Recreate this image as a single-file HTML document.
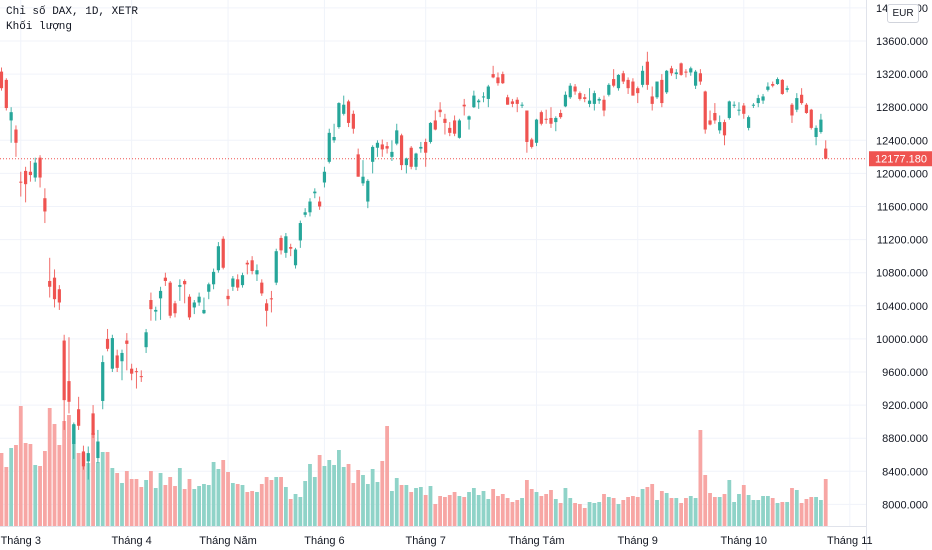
<!DOCTYPE html>
<html><head><meta charset="utf-8"><style>
html,body{margin:0;padding:0;background:#fff;}
#wrap{position:relative;width:932px;height:550px;overflow:hidden;font-family:"Liberation Sans","Noto Sans CJK SC",sans-serif;}
svg{position:absolute;left:0;top:0;}
.legend{position:absolute;left:6px;font-family:"Liberation Mono","DejaVu Sans Mono",monospace;font-size:11px;color:#131722;}
#eur{position:absolute;left:887px;top:4px;width:30px;height:17px;border:1px solid #d1d4dc;border-radius:3px;background:#fff;font-size:10px;line-height:17px;text-align:center;color:#131722;}
</style></head><body>
<div id="wrap">
<svg id="chart" width="932" height="550"></svg>
<div class="legend" style="top:6px">Chỉ số DAX, 1D, XETR</div>
<div class="legend" style="top:21px">Khối lượng</div>
<div id="eur">EUR</div>
</div>
<script>
const opens=[13230,13130,12640,12530,11900,12030,12020,11950,12190,11700,10700,10740,10600,9980,9490,8730,9150,8640,8520,9100,8560,9250,10000,9640,9800,9730,9980,9640,9610,9550,9900,10470,10330,10490,10740,10680,10430,10630,10700,10510,10380,10440,10310,10570,10660,10830,11210,10520,10630,10720,10650,10920,10950,10780,10680,10430,10490,10680,11220,11040,11110,10890,11190,11500,11530,11760,11660,11890,12140,12400,12560,12720,12870,12720,12230,11880,11660,12140,12310,12350,12330,12200,12360,12460,12100,12310,12080,12300,12380,12380,12640,12770,12660,12550,12640,12430,12830,12650,12800,12860,12920,12900,13200,13160,13200,12920,12870,12890,12820,12760,12410,12370,12740,12660,12670,12620,12730,12810,12920,13050,12970,12920,12840,12840,12880,12890,12950,13140,13030,13210,13130,13110,13030,13070,13350,12930,12920,13130,12980,13270,13200,13330,13230,13220,13060,13210,12990,12640,12730,12520,12620,12670,12820,12760,12820,12550,12820,12850,12880,13010,13080,13080,13130,13010,12830,12770,12950,12830,12770,12440,12500,12300];
const highs=[13280,13150,12800,12580,12020,12080,12150,12190,12220,11820,10980,10840,10650,10050,10020,8990,9300,8710,8700,9200,8900,9800,10120,10050,9870,9870,10070,9700,9650,9620,10120,10560,10390,10630,10800,10700,10460,10720,10720,10540,10470,10560,10500,10680,10850,11170,11240,10600,10760,10780,10800,10950,11000,10900,10720,10480,10580,11090,11250,11280,11150,11100,11430,11580,11700,11820,11720,12080,12540,12600,12860,12940,12890,12760,12300,12160,11930,12340,12400,12410,12380,12400,12600,12480,12190,12330,12250,12380,12420,12620,12760,12860,12720,12620,12700,12660,12900,12700,13000,12900,12980,13070,13300,13220,13230,12950,12900,12920,12860,12760,12430,12660,12760,12770,12800,12690,12770,12990,13090,13080,12990,12960,13030,13000,12920,12940,13090,13260,13200,13240,13160,13150,13050,13300,13470,13050,13110,13200,13250,13300,13260,13340,13260,13290,13250,13260,13000,12760,12850,12700,12650,12880,12870,12860,12850,12700,12850,12950,12960,13100,13110,13160,13140,13060,12850,12970,13030,12850,12780,12580,12720,12400];
const lows=[13000,12760,12370,12200,11720,11650,11900,11900,11830,11400,10500,10380,10350,8900,9100,8550,8900,8420,8300,8800,8500,9150,9850,9600,9600,9500,9620,9500,9400,9480,9830,10220,10220,10230,10640,10250,10260,10460,10430,10230,10300,10400,10300,10480,10600,10800,10840,10400,10580,10580,10620,10780,10780,10700,10520,10150,10320,10650,11020,10980,11000,10850,11100,11470,11480,11700,11560,11830,12120,12370,12540,12700,12560,12480,11960,11850,11580,12000,12200,12200,12240,12150,12340,12040,12000,12050,12040,12250,12080,12360,12520,12680,12470,12450,12450,12420,12700,12530,12790,12780,12860,12800,13150,13060,13080,12830,12800,12740,12790,12250,12300,12330,12580,12600,12550,12510,12660,12800,12900,12950,12880,12860,12800,12760,12840,12690,12930,13040,13000,13080,12960,12940,12850,13040,13010,12760,12900,12800,12960,13180,13140,13180,13160,13180,13020,13070,12480,12580,12600,12480,12340,12650,12790,12700,12660,12520,12790,12800,12840,12990,13040,13070,12950,12980,12610,12740,12830,12720,12530,12340,12480,12177];
const closes=[13030,12790,12740,12370,11890,11870,11980,12130,11950,11540,10630,10480,10440,9260,9240,8970,8950,8460,8620,8840,8760,9720,9880,10010,9650,9830,9940,9580,9600,9540,10080,10360,10350,10580,10700,10280,10310,10650,10660,10260,10440,10510,10350,10660,10810,11120,10860,10480,10730,10620,10770,10900,10820,10830,10550,10340,10480,11060,11070,11240,11090,11080,11400,11530,11660,11780,11600,12020,12490,12440,12850,12830,12610,12540,11960,11960,11910,12320,12370,12290,12300,12260,12520,12100,12180,12080,12240,12320,12250,12610,12530,12740,12610,12490,12480,12640,12810,12690,12940,12880,12930,13050,13160,13090,13090,12830,12840,12840,12830,12380,12320,12650,12600,12650,12600,12670,12680,12950,13060,12990,12900,12900,12880,12970,12900,12760,13070,13060,13190,13110,13030,12940,12970,13240,13070,12840,13110,12850,13240,13210,13220,13190,13220,13270,13230,13110,12530,12590,12640,12620,12460,12870,12830,12770,12720,12680,12830,12910,12930,13050,13060,13140,12960,13030,12700,12910,12850,12730,12550,12550,12650,12177.18];
const volumes=[73,59,78,81,120,83,82,61,60,75,118,102,81,105,111,101,73,73,63,93,64,74,74,58,53,43,55,47,47,39,46,55,38,53,41,49,40,58,37,47,37,40,42,41,64,57,66,54,43,42,41,34,35,34,42,49,46,49,49,39,27,32,29,45,62,49,71,60,66,61,76,59,62,43,56,51,42,57,44,65,100,35,48,41,41,34,38,39,31,40,22,30,29,31,34,30,29,34,38,31,35,27,37,30,32,28,24,26,28,46,37,34,30,32,36,27,23,38,28,23,22,18,24,23,24,32,29,28,22,26,29,30,29,37,39,42,26,35,33,28,28,23,28,30,28,96,51,33,29,29,32,46,24,32,41,31,26,26,30,30,28,23,24,24,38,36,23,27,29,29,26,47];
const priceTicks=[14000,13600,13200,12800,12400,12000,11600,11200,10800,10400,10000,9600,9200,8800,8400,8000];
const monthLabels=["Tháng 3","Tháng 4","Tháng Năm","Tháng 6","Tháng 7","Tháng Tám","Tháng 9","Tháng 10","Tháng 11"];
const monthIndex=[4,27,47,67,88,111,132,154,176];
const lastPrice=12177.18;

const NS="http://www.w3.org/2000/svg";
const svg=document.getElementById('chart');
const PLOT_R=866, VOL_BASE=526;
function xOf(i){return 1.5+i*4.82;}
function yOf(p){return 41+(13600-p)*33.1/400;}
function vOf(v){return VOL_BASE-v;}
function mk(tag,attrs,parent){const e=document.createElementNS(NS,tag);for(const k in attrs)e.setAttribute(k,attrs[k]);(parent||svg).appendChild(e);return e;}

// grid
priceTicks.forEach((p,k)=>{
  const g=mk('line',{x1:0,x2:PLOT_R,y1:yOf(p),y2:yOf(p),stroke:'#f0f3fa','stroke-width':1});
  
  
});
monthIndex.forEach((mi,k)=>{
  const g=mk('line',{x1:xOf(mi),x2:xOf(mi),y1:0,y2:VOL_BASE,stroke:'#f0f3fa','stroke-width':1});
  
  
});
// volume
volumes.forEach((v,i)=>{
  const up=closes[i]>=opens[i];
  const r=mk('rect',{x:xOf(i)-1.9,y:vOf(v),width:3.8,height:v,fill:up?'#8fd3c8':'#f7a6a4'});
  
  
});
// last price line
const lp=mk('line',{x1:0,x2:PLOT_R,y1:yOf(lastPrice),y2:yOf(lastPrice),stroke:'#ef5350','stroke-width':1,'stroke-dasharray':'1,2'});


// candles
opens.forEach((o,i)=>{
  const c=closes[i],up=c>=o,col=up?'#26a69a':'#ef5350';
  const g=mk('g',{});
  
  
  mk('line',{x1:xOf(i),x2:xOf(i),y1:yOf(highs[i]),y2:yOf(lows[i]),stroke:col,'stroke-width':1,opacity:0.85},g);
  const top=yOf(Math.max(o,c)),h=Math.max(1,yOf(Math.min(o,c))-top);
  mk('rect',{x:xOf(i)-1.6,y:top,width:3.2,height:h,fill:col},g);
});
// axes
const ra=mk('line',{x1:PLOT_R+0.5,x2:PLOT_R+0.5,y1:0,y2:550,stroke:'#e0e3eb'});


const ba=mk('line',{x1:0,x2:PLOT_R,y1:VOL_BASE+0.5,y2:VOL_BASE+0.5,stroke:'#e0e3eb'});


priceTicks.forEach(p=>{
  const t=mk('text',{x:928,y:yOf(p)+4,'text-anchor':'end','font-size':11,fill:'#131722','font-family':'Liberation Sans, sans-serif'});
  t.textContent=p.toFixed(3);
  
  
});
monthLabels.forEach((m,k)=>{
  const t=mk('text',{x:xOf(monthIndex[k]),y:544,'text-anchor':'middle','font-size':11,fill:'#131722','font-family':'Liberation Sans, sans-serif'});
  t.textContent=m;
  
  
});
// last price tag
const tag=mk('rect',{x:869,y:yOf(lastPrice)-7.5,width:63,height:15,fill:'#ef5350'});


const tt=mk('text',{x:927,y:yOf(lastPrice)+4,'text-anchor':'end','font-size':11,fill:'#fff','font-family':'Liberation Sans, sans-serif'});
tt.textContent=lastPrice.toFixed(3);


</script>
</body></html>
